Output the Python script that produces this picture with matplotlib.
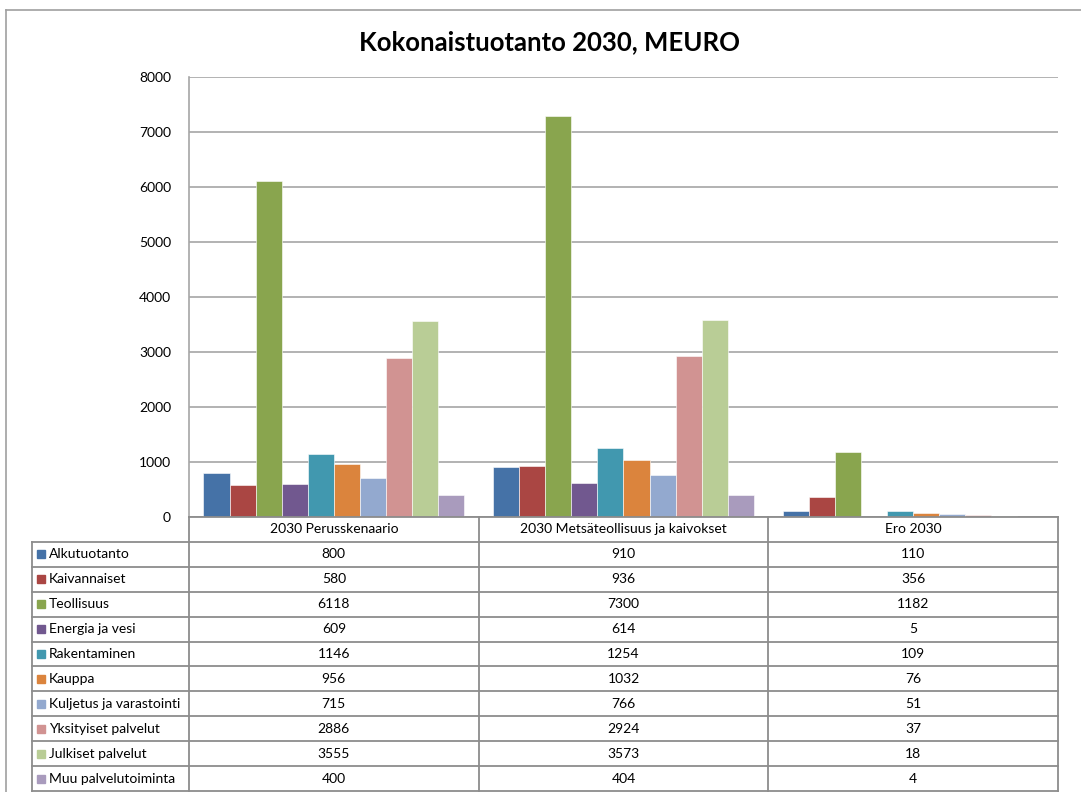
import matplotlib.pyplot as plt
from matplotlib.lines import Line2D
import numpy as np

plt.rcParams['font.family'] = ['Lato', 'DejaVu Sans']

# Data
groups = ["2030 Perusskenaario", "2030 Metsäteollisuus ja kaivokset", "Ero 2030"]
sectors = ["Alkutuotanto", "Kaivannaiset", "Teollisuus", "Energia ja vesi",
           "Rakentaminen", "Kauppa", "Kuljetus ja varastointi",
           "Yksityiset palvelut", "Julkiset palvelut", "Muu palvelutoiminta"]
colors = ["#4572A7", "#AA4643", "#89A54E", "#71588F", "#4198AF",
          "#DB843D", "#93A9CF", "#D19392", "#B9CD96", "#A99BBD"]
perus = [800, 580, 6118, 609, 1146, 956, 715, 2886, 3555, 400]
metsa = [910, 936, 7300, 614, 1254, 1032, 766, 2924, 3573, 404]
ero = [110, 356, 1182, 5, 109, 76, 51, 37, 18, 4]

W, H = 1081, 792
fig = plt.figure(figsize=(W / 100, H / 100), dpi=100)


def box(l, t, r, b):
    # pixel box -> figure fraction
    return [l / W, 1 - b / H, (r - l) / W, (b - t) / H]


# bar chart
ax = fig.add_axes(box(189, 77, 1058, 517))
values = np.array([perus, metsa, ero])
x = np.arange(len(groups))
w = 0.09
for i, s in enumerate(sectors):
    ax.bar(x + (i - 4.5) * w, values[:, i], w, color=colors[i],
           edgecolor='white', linewidth=0.4)
ax.set_xlim(-0.5, 2.5)
ax.set_ylim(0, 8000)
ax.set_yticks(range(0, 8001, 1000))
ax.set_xticks([])
ax.grid(axis='y', color='#A6A6A6', linewidth=1.2)
ax.set_axisbelow(True)
for sp in ['top', 'right', 'bottom']:
    ax.spines[sp].set_visible(False)
ax.spines['left'].set_color('#A6A6A6')
ax.spines['left'].set_linewidth(1.2)
ax.tick_params(axis='y', length=0, pad=13, labelsize=10)

# data table below
tab = fig.add_axes(box(189, 517, 1058, 791))
tab.set_xlim(-0.5, 2.5)
tab.set_ylim(11, 0)
tab.axis('off')
unit = 869 / 3  # pixels per group
left = -0.5 - (189 - 32) / unit
lk = dict(color='#8C8C8C', lw=1.3, clip_on=False)
tab.plot([-0.5, 2.5], [0, 0], **lk)
for r in range(1, 12):
    tab.plot([left, 2.5], [r, r], **lk)
for c in [-0.5, 0.5, 1.5, 2.5]:
    tab.plot([c, c], [0, 11], **lk)
tab.plot([left, left], [1, 11], **lk)

for g, name in enumerate(groups):
    tab.text(g, 0.5, name, ha='center', va='center', fontsize=10)
for i, s in enumerate(sectors):
    y = i + 1.5
    tab.plot([left + 9 / unit], [y], marker='s', ms=6, color=colors[i],
             clip_on=False)
    tab.text(left + 17 / unit, y, s, ha='left', va='center', fontsize=10)
    for g in range(len(groups)):
        tab.text(g, y, str(values[g, i]), ha='center', va='center', fontsize=10)

fig.text(549.5 / W, 1 - 42 / H, "Kokonaistuotanto 2030, MEURO",
         ha='center', va='center', fontsize=18.5, fontweight='bold')

# outer chart border
fig.add_artist(Line2D([6 / W, 1], [1 - 10 / H, 1 - 10 / H], color='#A0A0A0', lw=1.2))
fig.add_artist(Line2D([6 / W, 6 / W], [0, 1 - 10 / H], color='#A0A0A0', lw=1.2))

fig.savefig('out.png', dpi=100)
